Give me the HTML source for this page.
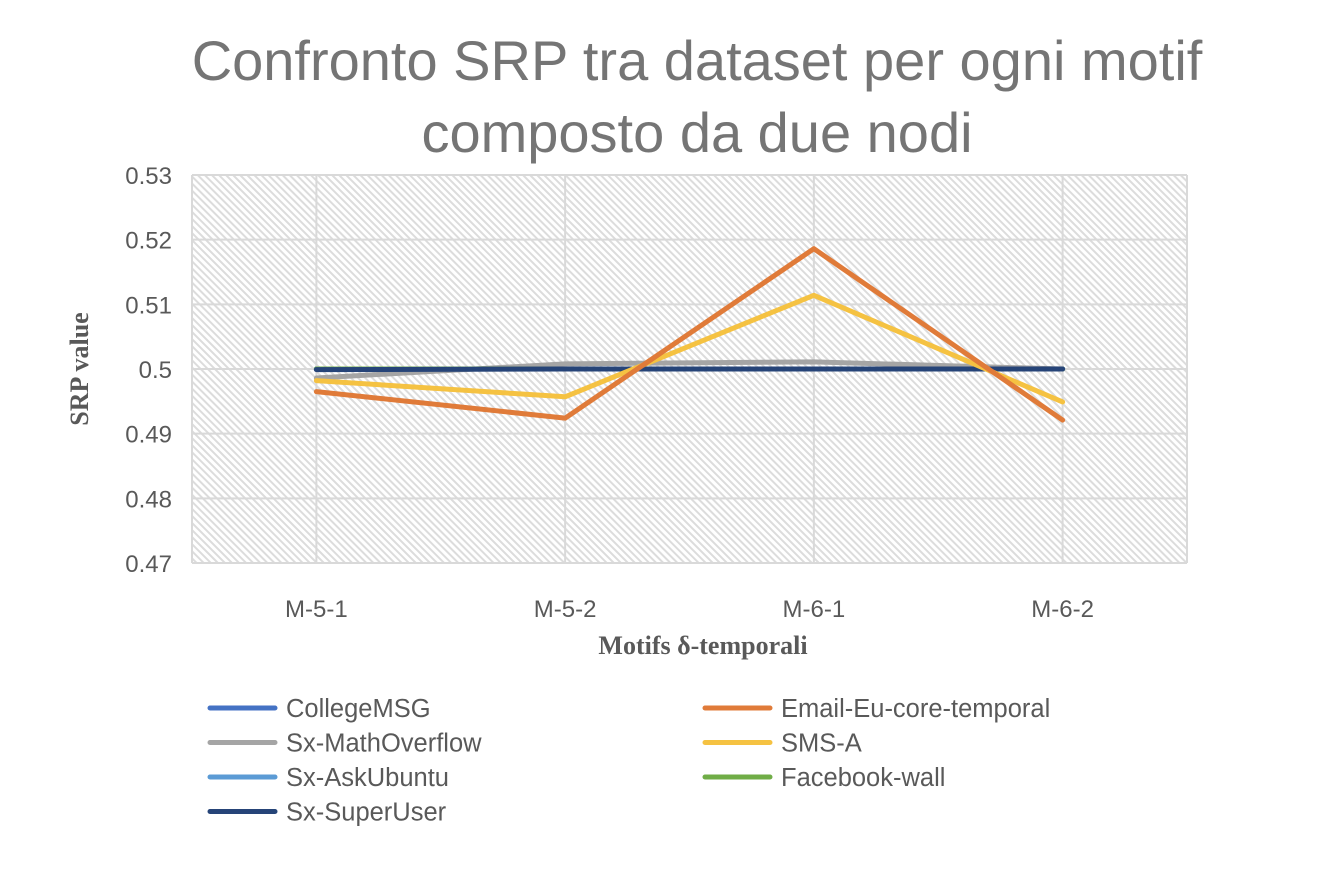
<!DOCTYPE html>
<html><head><meta charset="utf-8"><style>
body{margin:0;background:#fff;}
svg text{font-family:"Liberation Sans",sans-serif;}
</style></head><body>
<svg width="1344" height="870" xmlns="http://www.w3.org/2000/svg">
<defs>
<pattern id="hatch" patternUnits="userSpaceOnUse" width="5" height="5" patternTransform="rotate(-45)">
<rect width="5" height="5" fill="#fff"/><rect x="0" y="0" width="2" height="5" fill="#dcdcdc"/>
</pattern>
</defs>
<text x="697" y="80" text-anchor="middle" font-size="56" fill="#757575">Confronto SRP tra dataset per ogni motif</text>
<text x="697" y="152" text-anchor="middle" font-size="56" fill="#757575">composto da due nodi</text>
<rect x="192" y="175" width="995" height="388" fill="url(#hatch)"/>
<g id="grid"></g>
<g id="axes"></g>
<g id="series"></g>
<text x="703" y="654" text-anchor="middle" font-size="26" font-weight="bold" fill="#595959" style="font-family:'Liberation Serif',serif">Motifs δ-temporali</text>
<text transform="translate(88,369) rotate(-90)" text-anchor="middle" font-size="26" font-weight="bold" fill="#595959" style="font-family:'Liberation Serif',serif">SRP value</text>
<g id="legend"></g>
</svg>
<script>
const categories=["M-5-1","M-5-2","M-6-1","M-6-2"];
const yTicks=[0.47,0.48,0.49,0.5,0.51,0.52,0.53];
const yTickLabels=["0.47","0.48","0.49","0.5","0.51","0.52","0.53"];
const seriesNames=["CollegeMSG","Email-Eu-core-temporal","Sx-MathOverflow","SMS-A","Sx-AskUbuntu","Facebook-wall","Sx-SuperUser"];
const seriesColors=["#4472c4","#e07b39","#a5a5a5","#f5c242","#5b9bd5","#70ad47","#264478"];
const collegeMSG=[0.5,0.5,0.5,0.5];
const emailEu=[0.4965,0.4924,0.5186,0.4921];
const mathOverflow=[0.4986,0.5008,0.5011,0.5];
const smsA=[0.4982,0.4957,0.5114,0.4949];
const askUbuntu=[0.5,0.5,0.5,0.5];
const facebookWall=[0.5,0.5,0.5,0.5];
const superUser=[0.4999,0.5,0.5,0.5];
const seriesValues=[collegeMSG,emailEu,mathOverflow,smsA,askUbuntu,facebookWall,superUser];
const drawOrder=[0,2,4,5,6,3,1];
const NS="http://www.w3.org/2000/svg";
const L=192,R=1187,T=175,B=563,ymin=0.47,ymax=0.53;
const xs=i=>L+(R-L)/categories.length*(i+0.5);
const ys=v=>B-(v-ymin)/(ymax-ymin)*(B-T);
function mk(tag,attrs,parent,txt){const e=document.createElementNS(NS,tag);for(const k in attrs)e.setAttribute(k,attrs[k]);if(txt!==undefined)e.textContent=txt;document.getElementById(parent).appendChild(e);return e;}
yTicks.forEach((t,i)=>{
 const g=mk('line',{x1:L,x2:R,y1:ys(t),y2:ys(t),stroke:'#d9d9d9','stroke-width':2},'grid');
 
 
 const tx=mk('text',{x:172,y:ys(t)+9,'text-anchor':'end','font-size':24,fill:'#595959'},'axes',yTickLabels[i]);
 
 
});
[L,R].forEach(x=>{const g=mk('line',{x1:x,x2:x,y1:T,y2:B,stroke:'#d9d9d9','stroke-width':2},'grid');
 
 });
categories.forEach((c,i)=>{
 const g=mk('line',{x1:xs(i),x2:xs(i),y1:T,y2:B,stroke:'#d9d9d9','stroke-width':2},'grid');
 
 
 const tx=mk('text',{x:xs(i),y:617,'text-anchor':'middle','font-size':24,fill:'#595959'},'axes',c);
 
 
});
drawOrder.forEach(s=>{
 const pts=seriesValues[s].map((v,i)=>xs(i)+','+ys(v)).join(' ');
 const p=mk('polyline',{points:pts,fill:'none',stroke:seriesColors[s],'stroke-width':5,'stroke-linejoin':'round','stroke-linecap':'round'},'series');
 
 
});
seriesNames.forEach((n,i)=>{
 const col=i%2,row=Math.floor(i/2);
 const x0=col?705:210,y0=708+row*34.5;
 const l=mk('line',{x1:x0,x2:x0+65,y1:y0,y2:y0,stroke:seriesColors[i],'stroke-width':5,'stroke-linecap':'round'},'legend');
 
 
 const t=mk('text',{x:x0+76,y:y0+9,'font-size':25.5,fill:'#595959'},'legend',n);
 
 
});
</script>
</body></html>
